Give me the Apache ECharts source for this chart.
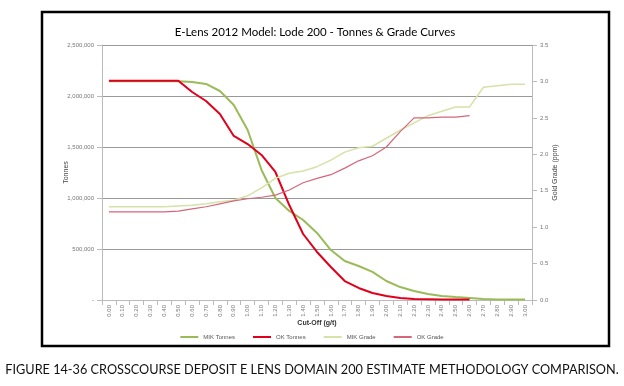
<!DOCTYPE html>
<html><head><meta charset="utf-8">
<script src="https://cdn.jsdelivr.net/npm/echarts@6/dist/echarts.min.js"></script>
<style>html,body{margin:0;padding:0;background:#fff}#c{width:624px;height:386px}</style>
</head><body><div id="c"></div>
<script>
var categories = ["0.00","0.10","0.20","0.30","0.40","0.50","0.60","0.70","0.80","0.90","1.00","1.10","1.20","1.30","1.40","1.50","1.60","1.70","1.80","1.90","2.00","2.10","2.20","2.30","2.40","2.50","2.60","2.70","2.80","2.90","3.00"];
var mikTonnes = [2145000,2145000,2145000,2145000,2145000,2145000,2137000,2118000,2049000,1912000,1667000,1275000,1000000,873000,784000,657000,490000,382000,333000,275000,186000,127000,88000,59000,39000,29000,20000,10000,6000,5000,4000];
var okTonnes = [2150000,2150000,2150000,2150000,2150000,2150000,2039000,1951000,1824000,1608000,1529000,1422000,1255000,931000,647000,471000,324000,186000,118000,69000,39000,20000,10000,8000,6000,5000,4000,null,null,null,null];
var mikGrade = [1.28,1.28,1.28,1.28,1.28,1.29,1.30,1.32,1.35,1.37,1.43,1.54,1.67,1.74,1.77,1.83,1.92,2.03,2.09,2.11,2.22,2.33,2.43,2.53,2.59,2.65,2.65,2.92,2.94,2.96,2.96];
var okGrade = [1.21,1.21,1.21,1.21,1.21,1.22,1.25,1.28,1.32,1.36,1.39,1.41,1.44,1.51,1.61,1.67,1.72,1.81,1.91,1.98,2.10,2.31,2.50,2.50,2.51,2.51,2.53,null,null,null,null];
var tonnesTicks = [0,500000,1000000,1500000,2000000,2500000];
var gradeTicks = [0.0,0.5,1.0,1.5,2.0,2.5,3.0,3.5];

var chart = echarts.init(document.getElementById('c'), null, {renderer:'canvas'});
var axisFont = {fontFamily:'Liberation Sans', fontSize:6, color:'#777'};
chart.setOption({
  animation:false,
  backgroundColor:'#fff',
  title:{text:'E-Lens 2012 Model: Lode 200 - Tonnes & Grade Curves', left:310, textAlign:'center', top:21,
    textStyle:{fontFamily:'Lato', fontSize:11.5, fontWeight:'normal', color:'#000'}},
  graphic:[
    {type:'rect', shape:{x:42,y:12,width:567,height:334}, style:{fill:null, stroke:'#000', lineWidth:2.5}, z:100},
    {type:'text', left:'center', top:363, style:{text:'FIGURE 14-36 CROSSCOURSE DEPOSIT E LENS DOMAIN 200 ESTIMATE METHODOLOGY COMPARISON.', font:'12.7px Lato', fill:'#111'}}
  ],
  legend:{data:['MIK Tonnes','OK Tonnes','MIK Grade','OK Grade'], top:329, left:'center', itemWidth:18, itemHeight:2, itemGap:18,
    icon:'rect', textStyle:{fontFamily:'Liberation Sans', fontSize:6, color:'#555'}},
  grid:{left:102, right:92, top:45, bottom:86},
  xAxis:{type:'category', data:categories, boundaryGap:true, name:'Cut-Off (g/t)', nameLocation:'middle', nameGap:20, nameMoveOverlap:false,
    nameTextStyle:{fontFamily:'Liberation Sans', fontSize:7, fontWeight:'bold', color:'#333'},
    axisLine:{lineStyle:{color:'#bbb'}}, axisTick:{show:true, lineStyle:{color:'#bbb'}},
    axisLabel:Object.assign({rotate:90, interval:0, margin:5}, axisFont)},
  yAxis:[
    {type:'value', min:tonnesTicks[0], max:tonnesTicks[tonnesTicks.length-1], interval:500000, name:'Tonnes', nameLocation:'middle', nameGap:32, nameRotate:90, nameMoveOverlap:false,
      nameTextStyle:{fontFamily:'Liberation Sans', fontSize:7, color:'#444'},
      axisLine:{show:true, lineStyle:{color:'#bbb'}}, axisTick:{show:true, lineStyle:{color:'#bbb'}},
      axisLabel:Object.assign({formatter:function(v){return v===0?'-':v.toLocaleString('en-US');}}, axisFont),
      splitLine:{show:true, lineStyle:{color:'#999', width:1}}},
    {type:'value', min:gradeTicks[0], max:gradeTicks[gradeTicks.length-1], interval:0.5, name:'Gold Grade (ppm)', nameLocation:'middle', nameGap:20, nameRotate:90, nameMoveOverlap:false,
      nameTextStyle:{fontFamily:'Liberation Sans', fontSize:7, color:'#444'},
      axisLine:{show:true, lineStyle:{color:'#bbb'}}, axisTick:{show:true, lineStyle:{color:'#bbb'}},
      axisLabel:Object.assign({formatter:function(v){return v.toFixed(1);}}, axisFont),
      splitLine:{show:false}}
  ],
  series:[
    {name:'MIK Tonnes', type:'line', yAxisIndex:0, data:mikTonnes, symbol:'none', lineStyle:{color:'#9bbb59', width:2}, itemStyle:{color:'#9bbb59'}},
    {name:'OK Tonnes', type:'line', yAxisIndex:0, data:okTonnes, symbol:'none', lineStyle:{color:'#e0001b', width:2}, itemStyle:{color:'#e0001b'}},
    {name:'MIK Grade', type:'line', yAxisIndex:1, data:mikGrade, symbol:'none', lineStyle:{color:'#d5e2a8', width:1.5}, itemStyle:{color:'#d5e2a8'}},
    {name:'OK Grade', type:'line', yAxisIndex:1, data:okGrade, symbol:'none', lineStyle:{color:'#d4677a', width:1.2}, itemStyle:{color:'#d4677a'}}
  ]
});
</script></body></html>
